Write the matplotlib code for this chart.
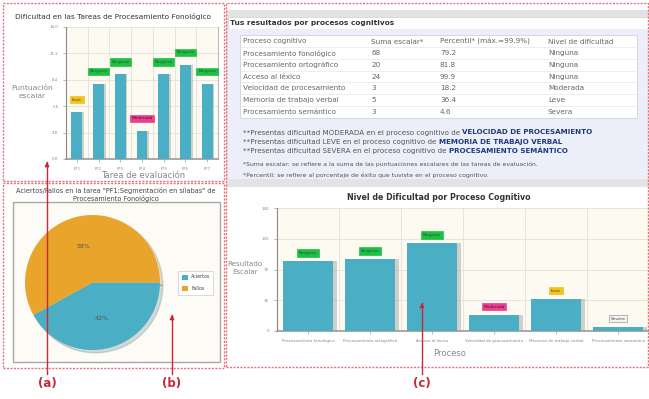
import matplotlib
matplotlib.use("Agg")
import matplotlib.pyplot as plt
from matplotlib.patches import Rectangle, FancyArrowPatch
import numpy as np

W, H = 649, 399

# ---------------- data ----------------
tareas = ["PF1", "PF2", "PF3", "PF4", "PF5", "PF6", "PF7"]
puntuacion = [5, 8, 9, 3, 9, 10, 8]
nivel_tareas = ["Leve", "Ninguna", "Ninguna", "Moderada", "Ninguna", "Ninguna", "Ninguna"]
yticks_a = [0.0, 2.8, 5.6, 8.4, 11.2, 14.0]

pie_labels = ["Aciertos", "Fallos"]
pie_values = [42, 58]

procesos = ["Procesamiento fonológico", "Procesamiento ortográfico", "Acceso al léxico",
            "Velocidad de procesamiento", "Memoria de trabajo verbal", "Procesamiento semántico"]
suma_escalar = ["68", "20", "24", "3", "5", "3"]
percentil = [79.2, 81.8, 99.9, 18.2, 36.4, 4.6]
nivel_proc = ["Ninguna", "Ninguna", "Ninguna", "Moderada", "Leve", "Severa"]
yticks_c = [0, 35, 70, 105, 140]
table_header = ["Proceso cognitivo", "Suma escalar*", "Percentil* (máx.=99.9%)", "Nivel de dificultad"]

TEAL = "#4aafc5"
ORANGE = "#e9a42b"
LEVEL_COL = {"Ninguna": "#1fbf45", "Leve": "#f2c318", "Moderada": "#ea3f8f", "Severa": "#f4f4f4"}
RED = "#c8283a"
DASH = "#e8707c"

fig = plt.figure(figsize=(W / 100, H / 100), dpi=100)
fig.patch.set_facecolor("white")


def rect(x0, y0, x1, y1):
    return [x0 / W, 1 - y1 / H, (x1 - x0) / W, (y1 - y0) / H]


def fbox(x0, y0, x1, y1, **kw):
    r = Rectangle((x0 / W, 1 - y1 / H), (x1 - x0) / W, (y1 - y0) / H,
                  transform=fig.transFigure, **kw)
    fig.add_artist(r)
    return r


def ftext(x, y, s, **kw):
    return fig.text(x / W, 1 - y / H, s, **kw)


# ---------------- backgrounds (right panel) ----------------
fbox(226, 10, 649, 187, facecolor="#e3e3e3", edgecolor="none", zorder=0)
fbox(228, 17, 649, 29, facecolor="white", edgecolor="#d0d0d0", lw=0.5, zorder=0.5)
fbox(228, 29, 649, 179, facecolor="#eceef9", edgecolor="none", zorder=0.5)
fbox(240, 35, 637, 118, facecolor="white", edgecolor="#cfd2dd", lw=0.6, zorder=0.6)
ftext(230, 23.5, "Tus resultados por procesos cognitivos", fontsize=5.3, fontweight="bold",
      color="#333333", va="center", ha="left")

# table
col_x = [243, 371, 440, 548]
row_y0, row_dy = 41.5, 11.7
GRAY = "#666666"
for j, h in enumerate(table_header):
    ftext(col_x[j], row_y0, h, fontsize=5.2, color=GRAY, va="center", ha="left")
for i in range(len(procesos)):
    yy = row_y0 + (i + 1) * row_dy
    vals = [procesos[i], suma_escalar[i], f"{percentil[i]:.1f}", nivel_proc[i]]
    for j, v in enumerate(vals):
        ftext(col_x[j], yy, v, fontsize=5.2, color=GRAY, va="center", ha="left")
    fig.add_artist(plt.Line2D([241 / W, 636 / W], [1 - (yy - row_dy / 2) / H] * 2,
                              transform=fig.transFigure, color="#e6e6ee", lw=0.5))

notes = [("MODERADA", "VELOCIDAD DE PROCESAMIENTO"),
         ("LEVE", "MEMORIA DE TRABAJO VERBAL"),
         ("SEVERA", "PROCESAMIENTO SEMÁNTICO")]
for k, (lvl, proc) in enumerate(notes):
    yy = 132.5 + k * 9.2
    t = ftext(243, yy, f"**Presentas dificultad {lvl} en el proceso cognitivo de ", fontsize=5.1,
              color="#555555", va="center", ha="left")
    fig.canvas.draw()
    bb = t.get_window_extent()
    ftext(bb.x1 * 100 / fig.dpi, yy, proc, fontsize=5.1, color="#1f3a7a", fontweight="bold",
          va="center", ha="left")
ftext(243, 164, "*Suma escalar: se refiere a la suma de las puntuaciones escalares de las tareas de evaluación.",
      fontsize=4.4, color="#555555", va="center", ha="left")
ftext(243, 175, "*Percentil: se refiere al porcentaje de éxito que tuviste en el proceso cognitivo.",
      fontsize=4.4, color="#555555", va="center", ha="left")


def shadow_bars(ax, x, vals, width, dx):
    ax.bar(np.asarray(x) + dx, vals, width=width, bottom=0,
           color="#9a9a9a", alpha=0.45, zorder=2)


def level_label(ax, x, y, txt, fs):
    fc = LEVEL_COL[txt]
    ec = "#9a9a9a" if txt == "Severa" else fc
    tc = "#444444" if txt in ("Severa", "Leve") else "#1d5a2a"
    if txt == "Moderada":
        tc = "#5a1030"
    ax.text(x, y, txt, fontsize=fs, ha="center", va="center", color=tc, zorder=5,
            bbox=dict(boxstyle="square,pad=0.4", fc=fc, ec=ec, lw=0.5))


# ---------------- chart (a) ----------------
axa = fig.add_axes(rect(66, 27, 218, 159))
axa.set_facecolor("#fdfbf1")
xa = np.arange(len(tareas))
shadow_bars(axa, xa, puntuacion, 0.5, 0.08)
axa.bar(xa, puntuacion, width=0.5, color=TEAL, zorder=3)
for xi, v, lv in zip(xa, puntuacion, nivel_tareas):
    level_label(axa, xi, v + 1.3, lv, 3.1)
axa.set_xlim(-0.5, len(tareas) - 0.5)
axa.set_ylim(0, 14.0)
axa.set_yticks(yticks_a)
axa.set_yticklabels([f"{t:.1f}" for t in yticks_a])
axa.set_xticks(xa)
axa.set_xticklabels(tareas)
axa.set_xticks(np.arange(len(tareas) + 1) - 0.5, minor=True)
axa.tick_params(axis="both", which="major", labelsize=2.8, colors="#888888", length=2, width=0.4)
axa.tick_params(axis="x", which="minor", length=0)
axa.grid(True, which="minor", axis="x", color="#e2e0d8", lw=0.6, zorder=0)
axa.grid(True, which="major", axis="y", color="#e2e0d8", lw=0.6, zorder=0)
axa.spines["top"].set_visible(False)
axa.spines["left"].set_color("#888888")
axa.spines["right"].set_color("#bbbbbb")
axa.spines["bottom"].set_color("#999999")
axa.spines["bottom"].set_linewidth(1.2)
axa.set_axisbelow(True)
ftext(113, 16, "Dificultad en las Tareas de Procesamiento Fonológico", fontsize=5.3,
      color="#333333", ha="center", va="center")
ftext(32, 92, "Puntuación\nescalar", fontsize=5.4, color="#888888", ha="center", va="center",
      linespacing=1.3)
ftext(143, 175, "Tarea de evaluación", fontsize=6, color="#888888", ha="center", va="center")

# ---------------- chart (b) ----------------
fbox(13, 202, 220, 362, facecolor="#fdfbf5", edgecolor="#a8a8a8", lw=1.0, zorder=0.5)
ftext(116, 190, "Aciertos/Fallos en la tarea \"PF1:Segmentación en sílabas\" de", fontsize=4.7,
      color="#444444", ha="center", va="center")
ftext(116, 198.5, "Procesamiento Fonológico", fontsize=4.7, color="#444444", ha="center", va="center")
axb = fig.add_axes(rect(25, 215, 160, 350))
axb.set_zorder(2)
axb.set_facecolor("none")
wedges, texts, autotexts = axb.pie(pie_values, colors=[TEAL, ORANGE], startangle=0, counterclock=False,
                                   autopct="%d%%", pctdistance=0.55, radius=1.0,
                                   shadow={"ox": 0.03, "oy": -0.03, "alpha": 0.2, "shade": 0.5},
                                   textprops=dict(fontsize=4.5, color="#555555"))
axb.set_xlim(-1.0, 1.0)
axb.set_ylim(-1.0, 1.0)
axb.set_aspect("equal")
axb.axis("off")
# legend
fbox(178, 271, 213, 295, facecolor="white", edgecolor="#cccccc", lw=0.5, zorder=1)
for k, (lab, col) in enumerate(zip(pie_labels, [TEAL, ORANGE])):
    yy = 277 + k * 11.5
    fbox(182, yy - 2.5, 188, yy + 2.5, facecolor=col, edgecolor="none", zorder=2)
    ftext(191, yy, lab, fontsize=3.4, color="#444444", ha="left", va="center", zorder=2)

# ---------------- chart (c) ----------------
axc = fig.add_axes(rect(277, 208, 649, 331))
axc.set_facecolor("#fdfbf1")
xc = np.arange(len(procesos))
shadow_bars(axc, xc, percentil, 0.82, 0.05)
axc.bar(xc, percentil, width=0.82, color=TEAL, zorder=3)
for xi, v, lv in zip(xc, percentil, nivel_proc):
    level_label(axc, xi, v + 9.5, lv, 3.1)
axc.set_xlim(-0.5, len(procesos) - 0.5)
axc.set_ylim(0, 140)
axc.set_yticks(yticks_c)
axc.set_xticks(xc)
axc.set_xticklabels(procesos)
axc.set_xticks(np.arange(len(procesos) + 1) - 0.5, minor=True)
axc.tick_params(axis="both", which="major", labelsize=3.0, colors="#888888", length=2, width=0.4)
axc.tick_params(axis="x", which="minor", length=0)
axc.grid(True, which="minor", axis="x", color="#e2e0d8", lw=0.6, zorder=0)
axc.grid(True, which="major", axis="y", color="#e2e0d8", lw=0.6, zorder=0)
axc.spines["top"].set_visible(False)
axc.spines["right"].set_visible(False)
axc.spines["left"].set_color("#888888")
axc.spines["bottom"].set_color("#999999")
axc.spines["bottom"].set_linewidth(1.2)
axc.set_axisbelow(True)
ftext(439, 198, "Nivel de Dificultad por Proceso Cognitivo", fontsize=5.7, fontweight="bold",
      color="#333333", ha="center", va="center")
ftext(245, 268, "Resultado\nEscalar", fontsize=5.1, color="#888888", ha="center", va="center",
      linespacing=1.3)
ftext(450, 354, "Proceso", fontsize=6, color="#888888", ha="center", va="center")

# ---------------- dashed panel boxes ----------------
for (x0, y0, x1, y1) in [(3, 3, 224, 181), (3, 183, 224, 368), (226, 3, 648, 367)]:
    fbox(x0, y0, x1, y1, facecolor="none", edgecolor=DASH, lw=1.0, linestyle=(0, (1.5, 1)), zorder=8)

# ---------------- arrows & labels ----------------
for xx, ytip, lab in [(47, 159, "(a)"), (172, 312, "(b)"), (422, 300, "(c)")]:
    fig.add_artist(plt.Line2D([xx / W, xx / W], [1 - 374 / H, 1 - (ytip + 3) / H],
                              transform=fig.transFigure, color=RED, lw=1.0, zorder=9))
    fig.add_artist(FancyArrowPatch((xx / W, 1 - (ytip + 10) / H), (xx / W, 1 - ytip / H),
                                   transform=fig.transFigure, arrowstyle="-|>",
                                   mutation_scale=6, color=RED, lw=1.0, zorder=9))
    ftext(xx, 383, lab, fontsize=8.5, fontweight="bold", color=RED, ha="center", va="center", zorder=9)

fig.savefig("out.png", dpi=100)
